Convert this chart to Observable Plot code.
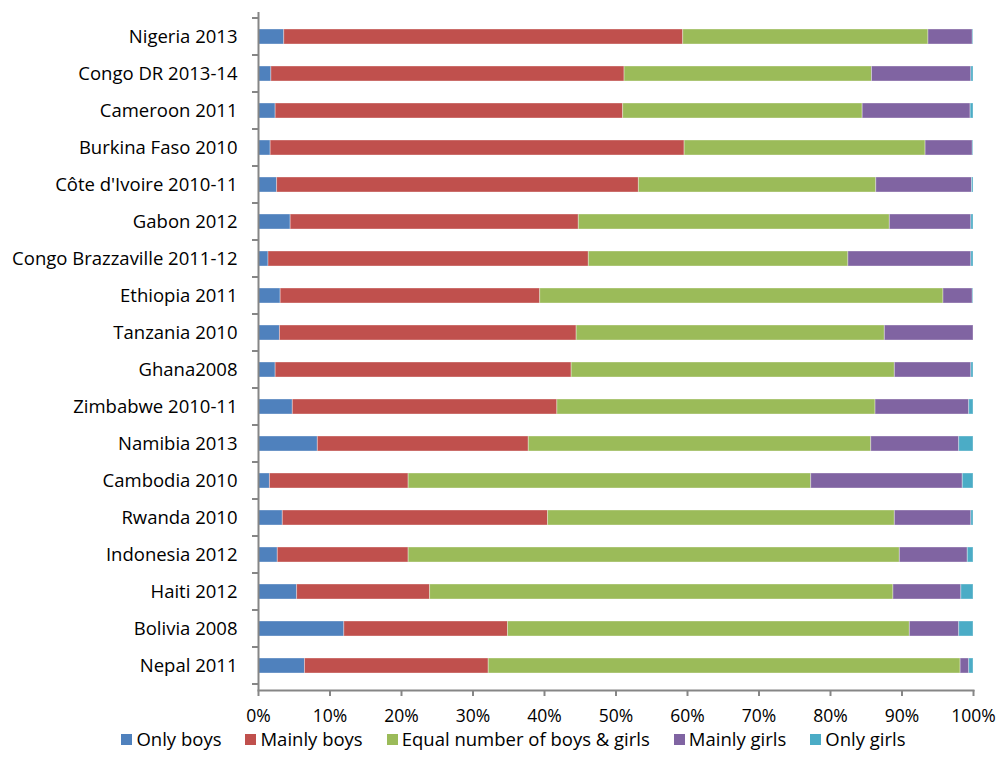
<!DOCTYPE html>
<html>
<head>
<meta charset="utf-8">
<script src="https://cdn.jsdelivr.net/npm/d3@7"></script>
<script src="https://cdn.jsdelivr.net/npm/@observablehq/plot@0.6"></script>
<style>
  html, body { margin: 0; padding: 0; background: #fff; }
  body { width: 999px; height: 776px; overflow: hidden; font-family: "Open Sans", "Liberation Sans", sans-serif; }
  #chart svg { display: block; }
  #legend { display: flex; justify-content: center; margin-top: -6px; font-size: 18.5px; line-height: 20px; color: #000; padding-left: 28px; }
  .item { display: flex; align-items: center; margin: 0 12px; }
  .sw { width: 11px; height: 11px; margin-right: 4px; }
</style>
</head>
<body>
<div id="chart"></div>
<div id="legend"></div>
<script>
const countries = [
  "Nigeria 2013", "Congo DR 2013-14", "Cameroon 2011", "Burkina Faso 2010",
  "Côte d'Ivoire 2010-11", "Gabon 2012", "Congo Brazzaville 2011-12", "Ethiopia 2011",
  "Tanzania 2010", "Ghana2008", "Zimbabwe 2010-11", "Namibia 2013",
  "Cambodia 2010", "Rwanda 2010", "Indonesia 2012", "Haiti 2012",
  "Bolivia 2008", "Nepal 2011"
];
const seriesNames = ["Only boys", "Mainly boys", "Equal number of boys & girls", "Mainly girls", "Only girls"];
const seriesColors = ["#4F81BD", "#C0504D", "#9BBB59", "#8064A2", "#4BACC6"];

const onlyBoys    = [3.6, 1.8, 2.4, 1.7, 2.6, 4.5, 1.4, 3.1, 3.0, 2.4, 4.8, 8.3, 1.6, 3.4, 2.7, 5.4, 12.0, 6.5];
const mainlyBoys  = [55.8, 49.4, 48.6, 57.9, 50.6, 40.3, 44.8, 36.3, 41.5, 41.4, 37.0, 29.5, 19.4, 37.1, 18.3, 18.6, 22.9, 25.7];
const equalNumber = [34.3, 34.6, 33.5, 33.7, 33.2, 43.5, 36.3, 56.4, 43.1, 45.2, 44.5, 47.9, 56.3, 48.5, 68.7, 64.8, 56.2, 66.0];
const mainlyGirls = [6.2, 13.9, 15.1, 6.6, 13.4, 11.4, 17.2, 4.1, 12.4, 10.7, 13.1, 12.3, 21.2, 10.7, 9.5, 9.5, 6.9, 1.2];
const onlyGirls   = [0.1, 0.3, 0.4, 0.1, 0.2, 0.3, 0.3, 0.1, 0.0, 0.3, 0.6, 2.0, 1.5, 0.3, 0.8, 1.7, 2.0, 0.6];
const xTicks = [0, 10, 20, 30, 40, 50, 60, 70, 80, 90, 100];

const seriesValues = [onlyBoys, mainlyBoys, equalNumber, mainlyGirls, onlyGirls];
const data = [];
countries.forEach((c, i) => {
  seriesValues.forEach((vals, s) => {
    data.push({country: c, series: seriesNames[s], value: vals[i]});
  });
});

const font = "\"Open Sans\", \"Liberation Sans\", sans-serif";

// Excel-style category ticks at band boundaries
function categoryTicks(index, scales, values, dimensions) {
  const y = scales.y;
  const step = y.step();
  const g = d3.create("svg:g").attr("stroke", "#868686").attr("stroke-width", 2);
  const dom = y.domain();
  const half = (step - y.bandwidth()) / 2;
  const boundaries = dom.map(d => y(d) - half);
  boundaries.push(y(dom[dom.length - 1]) + y.bandwidth() + half);
  const x0 = scales.x(0);
  for (const b of boundaries) {
    g.append("line").attr("x1", x0 - 6).attr("x2", x0).attr("y1", b).attr("y2", b);
  }
  return g.node();
}

const plot = Plot.plot({
  width: 999,
  height: 735,
  marginLeft: 258,
  marginRight: 26,
  marginTop: 12,
  marginBottom: 45,
  style: {fontFamily: font, fontSize: "18px", color: "#000", background: "#fff"},
  x: {domain: [0, 100], ticks: xTicks, tickFormat: d => d + "%", label: null},
  y: {domain: countries, paddingInner: 0.6, paddingOuter: 0.3, label: null},
  color: {domain: seriesNames, range: seriesColors},
  marks: [
    Plot.barX(data, {
      x: "value", y: "country", fill: "series",
      stroke: "#ffffff", strokeOpacity: 0.35, strokeWidth: 1
    }),
    Plot.axisX({ticks: xTicks, tickFormat: d => d + "%", tickSize: 6, tickPadding: 13, stroke: "#868686", strokeWidth: 2, fontSize: 17.5, fill: "#000", label: null}),
    Plot.axisY({tickSize: 0, tickPadding: 21, fontSize: 18.5, fill: "#000", label: null}),
    Plot.frame({anchor: "bottom", stroke: "#868686", strokeWidth: 2}),
    Plot.ruleX([0], {stroke: "#868686", strokeWidth: 2}),
    categoryTicks
  ]
});
document.getElementById("chart").appendChild(plot);

const legend = document.getElementById("legend");
seriesNames.forEach((name, i) => {
  const item = document.createElement("div");
  item.className = "item";
  const sw = document.createElement("div");
  sw.className = "sw";
  sw.style.background = seriesColors[i];
  const t = document.createElement("span");
  t.textContent = name;
  item.appendChild(sw);
  item.appendChild(t);
  legend.appendChild(item);
});
</script>
</body>
</html>
